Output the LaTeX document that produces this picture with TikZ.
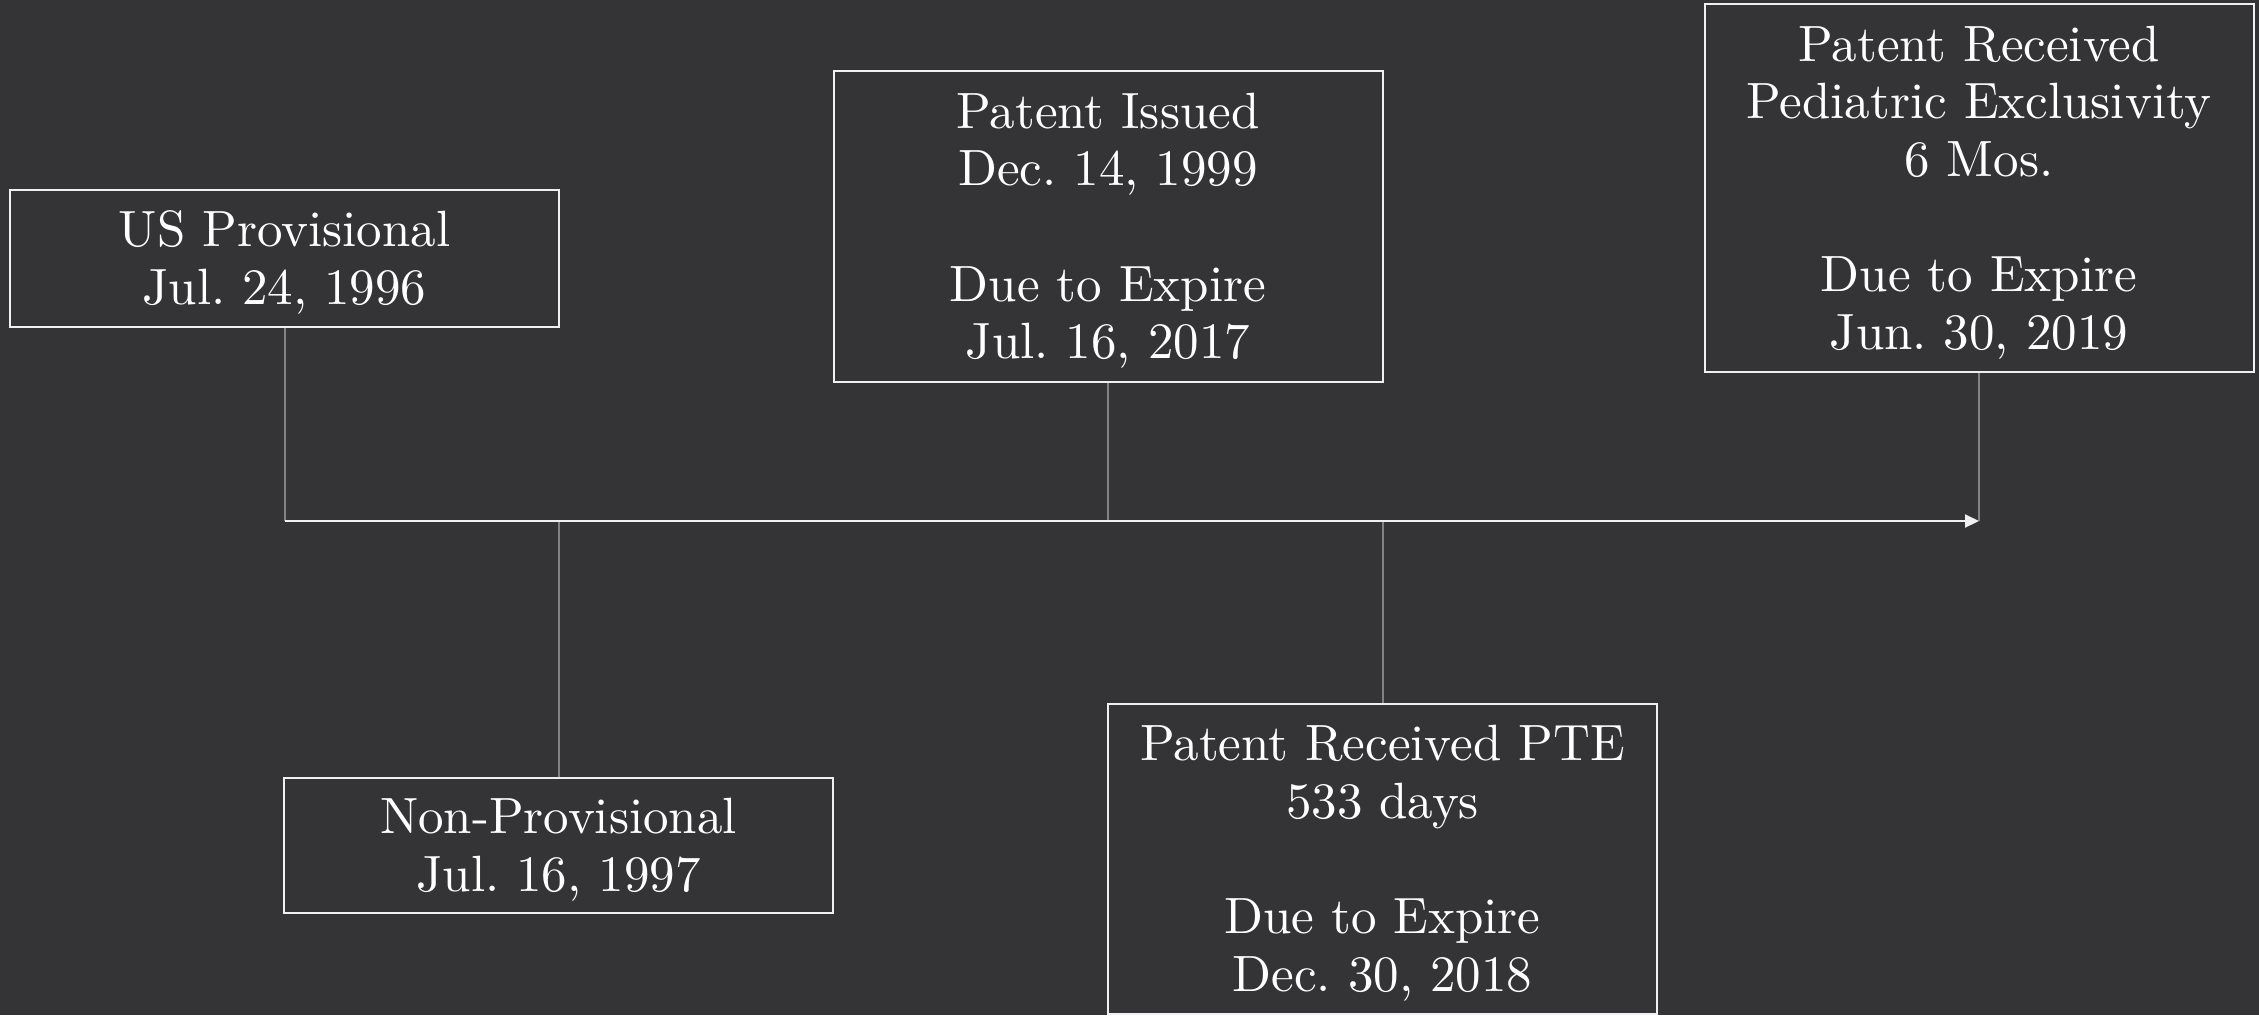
\documentclass[tikz,border=0pt]{standalone}
\usepackage{fontspec}
\setmainfont{lmroman10-regular.otf}
\usetikzlibrary{arrows.meta}
\definecolor{bgc}{RGB}{52,52,54}
\definecolor{edgec}{RGB}{240,240,240}
\definecolor{linkc}{RGB}{130,130,130}
\newcommand{\topgap}{\rule{0pt}{44pt}}
\begin{document}
\begin{tikzpicture}[x=1pt,y=-1pt,
  evbox/.style={draw=edgec, line width=2pt, fill=bgc, text=white, align=center,
    inner sep=0pt, minimum width=549pt, font=\fontsize{51}{57.6}\selectfont\frenchspacing},
  link/.style={draw=linkc, line width=2pt},
  axis/.style={draw=edgec, line width=2pt, -{Triangle[length=14pt,width=13pt]}}]
\fill[bgc] (0,0) rectangle (2259,1015);
\useasboundingbox (0,0) rectangle (2259,1015);
\node[evbox, minimum height=137pt] (b1) at (284.5,258.5) {\topgap US Provisional\\Jul. 24, 1996};
\node[evbox, minimum height=311pt] (b2) at (1108,226.5) {\topgap Patent Issued\\Dec. 14, 1999\\ \mbox{}\\Due to Expire\\Jul. 16, 2017};
\node[evbox, minimum height=368pt] (b3) at (1979,188) {\topgap Patent Received\\Pediatric Exclusivity\\6 Mos.\\ \mbox{}\\Due to Expire\\Jun. 30, 2019};
\node[evbox, minimum height=135pt] (b4) at (558.5,845.5) {\topgap Non-Provisional\\Jul. 16, 1997};
\node[evbox, minimum height=310pt] (b5) at (1382.5,859) {\topgap Patent Received PTE\\533 days\\ \mbox{}\\Due to Expire\\Dec. 30, 2018};
\coordinate (ts) at (284.5,521);
\coordinate (te) at (1979,521);
\draw[link] (b1.south) -- (b1.south |- ts);
\draw[link] (b2.south) -- (b2.south |- ts);
\draw[link] (b3.south) -- (b3.south |- ts);
\draw[link] (b4.north) -- (b4.north |- ts);
\draw[link] (b5.north) -- (b5.north |- ts);
\draw[axis] (ts) -- (te);
\end{tikzpicture}
\end{document}
